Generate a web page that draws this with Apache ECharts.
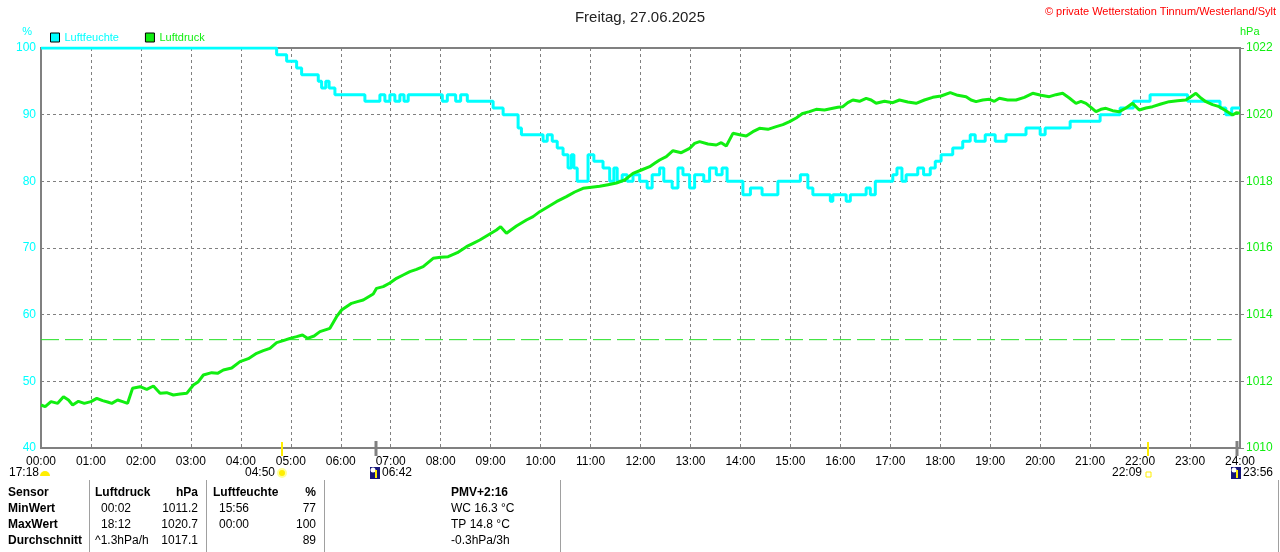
<!DOCTYPE html>
<html lang="de">
<head>
<meta charset="UTF-8">
<title>Freitag, 27.06.2025</title>
<script src="https://cdn.jsdelivr.net/npm/echarts@6/dist/echarts.min.js"></script>
<style>
  html, body { margin: 0; padding: 0; background: #fff; }
  #chart { width: 1280px; height: 552px; }
</style>
</head>
<body>
<div id="chart"></div>
<script>
// Luftfeuchte (%), Stufenwerte: Minute des Tages -> Wert
const humTimes = [0, 283, 295, 307, 313, 333, 337, 342, 346, 353, 389, 407, 413, 419, 425, 431, 436, 441, 482, 488,
  498, 504, 512, 543, 555, 573, 577, 603, 608, 614, 620, 627, 633, 637, 640, 644, 657, 664, 675, 683,
  688, 692, 698, 704, 711, 719, 728, 734, 743, 748, 758, 765, 771, 779, 785, 796, 803, 811, 818, 824,
  843, 852, 866, 885, 912, 921, 927, 948, 951, 967, 972, 991, 996, 1002, 1023, 1028, 1034, 1039, 1053, 1060,
  1068, 1074, 1081, 1095, 1107, 1116, 1122, 1134, 1146, 1159, 1183, 1200, 1206, 1236, 1272, 1296, 1312, 1332, 1377, 1416,
  1423, 1430, 1440];
const humValues = [100, 99, 98, 97, 96, 95, 94, 95, 94, 93, 92, 93, 92, 93, 92, 93, 92, 93, 92, 93,
  92, 93, 92, 91, 90, 88, 87, 86, 87, 86, 85, 84, 82, 84, 82, 80, 84, 83, 82, 80,
  82, 80, 81, 80, 81, 80, 79, 81, 82, 80, 79, 82, 81, 79, 81, 80, 82, 81, 82, 80,
  78, 79, 78, 80, 81, 79, 78, 77, 78, 77, 78, 79, 78, 80, 81, 82, 80, 81, 82, 81,
  82, 83, 84, 85, 86, 87, 86, 87, 86, 87, 88, 87, 88, 89, 90, 91, 92, 93, 92, 91,
  90, 91, 91];

// Luftdruck (hPa)
const presTimes = [0, 5, 12, 20, 27, 33, 38, 45, 52, 60, 67, 74, 80, 85, 92, 98, 104, 110, 119, 127,
  135, 143, 151, 159, 167, 175, 183, 189, 195, 205, 212, 219, 229, 239, 249, 259, 267, 275, 283, 291,
  299, 307, 314, 320, 328, 335, 347, 355, 361, 373, 380, 387, 399, 403, 411, 419, 427, 435, 443, 451,
  459, 471, 480, 489, 500, 511, 519, 527, 537, 547, 552, 559, 571, 583, 591, 599, 609, 619, 631, 641,
  651, 661, 671, 681, 691, 701, 711, 721, 731, 737, 743, 751, 759, 769, 779, 785, 791, 801, 811, 817,
  823, 831, 839, 847, 855, 863, 873, 883, 891, 899, 907, 915, 923, 931, 941, 951, 957, 963, 969, 975,
  983, 991, 997, 1003, 1013, 1023, 1031, 1041, 1051, 1061, 1071, 1081, 1092, 1101, 1111, 1117, 1123, 1131, 1139, 1145,
  1151, 1161, 1171, 1181, 1191, 1201, 1211, 1219, 1227, 1235, 1243, 1249, 1255, 1261, 1267, 1273, 1279, 1287, 1295, 1303,
  1311, 1319, 1327, 1335, 1345, 1355, 1365, 1375, 1381, 1387, 1393, 1399, 1407, 1415, 1423, 1431, 1436, 1440];
const presValues = [1011.29, 1011.24, 1011.39, 1011.34, 1011.54, 1011.44, 1011.29, 1011.40, 1011.34, 1011.39, 1011.49, 1011.42, 1011.38, 1011.34, 1011.44, 1011.39, 1011.34, 1011.79, 1011.84, 1011.76,
  1011.86, 1011.64, 1011.66, 1011.59, 1011.62, 1011.64, 1011.89, 1011.99, 1012.19, 1012.26, 1012.24, 1012.34, 1012.40, 1012.59, 1012.68, 1012.84, 1012.92, 1012.99, 1013.16, 1013.22,
  1013.29, 1013.34, 1013.39, 1013.29, 1013.36, 1013.49, 1013.59, 1013.94, 1014.14, 1014.34, 1014.39, 1014.44, 1014.62, 1014.79, 1014.84, 1014.95, 1015.09, 1015.19, 1015.29, 1015.36,
  1015.44, 1015.69, 1015.72, 1015.74, 1015.86, 1016.04, 1016.14, 1016.24, 1016.39, 1016.54, 1016.64, 1016.44, 1016.66, 1016.84, 1016.94, 1017.09, 1017.24, 1017.39, 1017.54, 1017.68,
  1017.79, 1017.82, 1017.85, 1017.90, 1017.95, 1018.04, 1018.24, 1018.34, 1018.44, 1018.54, 1018.64, 1018.74, 1018.92, 1018.86, 1018.99, 1019.14, 1019.19, 1019.12, 1019.09, 1019.16,
  1019.06, 1019.44, 1019.40, 1019.36, 1019.49, 1019.59, 1019.56, 1019.64, 1019.70, 1019.79, 1019.90, 1020.04, 1020.09, 1020.16, 1020.14, 1020.19, 1020.22, 1020.24, 1020.36, 1020.44,
  1020.40, 1020.49, 1020.44, 1020.34, 1020.40, 1020.36, 1020.44, 1020.38, 1020.34, 1020.44, 1020.52, 1020.56, 1020.66, 1020.58, 1020.54, 1020.44, 1020.39, 1020.44, 1020.46, 1020.40,
  1020.49, 1020.44, 1020.44, 1020.52, 1020.64, 1020.58, 1020.54, 1020.60, 1020.64, 1020.50, 1020.34, 1020.40, 1020.34, 1020.22, 1020.09, 1020.16, 1020.19, 1020.12, 1020.09, 1020.20,
  1020.34, 1020.14, 1020.20, 1020.24, 1020.32, 1020.39, 1020.42, 1020.44, 1020.54, 1020.64, 1020.50, 1020.39, 1020.30, 1020.24, 1020.12, 1019.99, 1020.06, 1020.04];

// Referenzlinie Normaldruck
const refTimes = [0, 1430];
const refPressure = 1013.25;

// Sonnen-/Mondereignisse
const eventTimes = [290, 402, 1329, 1436];
const eventLabels = ['04:50', '06:42', '22:09', '23:56'];
const eventKinds = ['sunrise', 'moonrise', 'sunset', 'moonset'];
const prevSunset = '17:18';

// Tabelle unten
const tableLabels = ['Sensor', 'MinWert', 'MaxWert', 'Durchschnitt'];
const presTimeCol = ['Luftdruck', '00:02', '18:12', '^1.3hPa/h'];
const presValCol = ['hPa', '1011.2', '1020.7', '1017.1'];
const humTimeCol = ['Luftfeuchte', '15:56', '00:00', ''];
const humValCol = ['%', '77', '100', '89'];
const pmvLines = ['PMV+2:16', 'WC 16.3 °C', 'TP 14.8 °C', '-0.3hPa/3h'];

const CYAN = '#00ffff';
const GREEN = '#11ee11';
const GRAY = '#808080';
const FONT = '"Liberation Sans", Arial, sans-serif';

const humData = humTimes.map((t, i) => [t, humValues[i]]);
const presData = presTimes.map((t, i) => [t, presValues[i]]);
const refData = refTimes.map(t => [t, refPressure]);

const chart = echarts.init(document.getElementById('chart'));

const option = {
  animation: false,
  textStyle: { fontFamily: FONT },
  title: {
    text: 'Freitag, 27.06.2025',
    left: 'center',
    top: 5,
    textStyle: { fontSize: 15, fontWeight: 'normal', color: '#222', fontFamily: FONT }
  },
  legend: {
    left: 45,
    top: 27,
    icon: 'rect',
    itemWidth: 9,
    itemHeight: 9,
    itemGap: 26,
    textStyle: { fontSize: 11, fontFamily: FONT },
    itemStyle: { borderColor: '#000', borderWidth: 1 },
    data: [
      { name: 'Luftfeuchte', textStyle: { color: CYAN } },
      { name: 'Luftdruck', textStyle: { color: GREEN } }
    ]
  },
  grid: {
    left: 41, right: 40, top: 48, bottom: 104,
    show: true, borderColor: GRAY, borderWidth: 2,
    outerBoundsMode: 'none'
  },
  xAxis: {
    type: 'value',
    min: 0, max: 1440, interval: 60,
    axisLine: { show: false },
    axisTick: { show: false },
    axisLabel: {
      color: '#000', fontSize: 12, margin: 8, fontFamily: FONT,
      formatter: v => String(v / 60).padStart(2, '0') + ':00'
    },
    splitLine: { show: true, lineStyle: { color: GRAY, type: [3, 3], width: 1 } }
  },
  yAxis: [{
    type: 'value',
    min: 40, max: 100, interval: 10,
    axisLine: { show: false },
    axisTick: { show: false },
    axisLabel: { color: CYAN, fontSize: 12, margin: 5, fontFamily: FONT },
    splitLine: { show: true, lineStyle: { color: GRAY, type: [3, 3], width: 1 } }
  }, {
    type: 'value',
    min: 1010, max: 1022, interval: 2,
    position: 'right',
    axisLine: { show: false },
    axisTick: { show: true, length: 4, lineStyle: { color: GRAY, width: 1 } },
    axisLabel: { color: GREEN, fontSize: 12, margin: 6, fontFamily: FONT, formatter: v => String(v) },
    splitLine: { show: false }
  }],
  series: [{
    name: 'Normaldruck',
    type: 'line',
    yAxisIndex: 1,
    symbol: 'none',
    silent: true,
    lineStyle: { width: 1, color: '#22e022', type: [18, 6] },
    data: refData,
    z: 2
  }, {
    name: 'Luftfeuchte',
    type: 'line',
    yAxisIndex: 0,
    step: 'end',
    symbol: 'none',
    color: CYAN,
    lineStyle: { width: 3, color: CYAN },
    data: humData,
    z: 3
  }, {
    name: 'Luftdruck',
    type: 'line',
    yAxisIndex: 1,
    symbol: 'none',
    color: GREEN,
    lineStyle: { width: 3, color: GREEN },
    data: presData,
    z: 4
  }]
};

chart.setOption(option);

// Zusatzgrafik: Achsen-Einheiten, Copyright, Ereignisse, Tabelle
const g = [];
function txt(text, x, y, opt) {
  opt = opt || {};
  g.push({
    type: 'text', silent: true, z: 10,
    style: {
      text: text, x: x, y: y,
      fill: opt.color || '#000',
      font: (opt.bold ? 'bold ' : '') + (opt.size || 12) + 'px ' + FONT,
      textAlign: opt.align || 'left', align: opt.align || 'left',
      textVerticalAlign: 'middle', verticalAlign: 'middle'
    }
  });
}
function vline(x, y1, y2, color, w) {
  g.push({ type: 'line', silent: true, z: 9, shape: { x1: x, y1: y1, x2: x, y2: y2 }, style: { stroke: color, lineWidth: w } });
}

txt('%', 32, 32, { color: CYAN, size: 11, align: 'right' });
txt('hPa', 1240, 32, { color: GREEN, size: 11 });
txt('© private Wetterstation Tinnum/Westerland/Sylt', 1276, 12, { color: '#ff0000', size: 11, align: 'right' });

const yBase = chart.convertToPixel({ yAxisIndex: 0 }, 40);
const iconY = 473;

// Sonnenuntergang Vortag links
txt(prevSunset, 9, iconY, { size: 12 });
g.push({ type: 'sector', silent: true, z: 10, shape: { cx: 45, cy: iconY + 3, r0: 0, r: 5, startAngle: Math.PI, endAngle: Math.PI * 2 }, style: { fill: '#ffee00' } });

eventTimes.forEach((t, i) => {
  const x = Math.round(chart.convertToPixel({ xAxisIndex: 0 }, t));
  const kind = eventKinds[i];
  if (kind === 'sunrise' || kind === 'sunset') {
    vline(x, yBase - 6, yBase + 8, '#ffee00', 2);
  } else {
    vline(x, yBase - 7, yBase + 8, GRAY, 3);
  }
  if (kind === 'sunrise') {
    g.push({ type: 'circle', silent: true, z: 10, shape: { cx: x, cy: iconY, r: 4 }, style: { fill: '#ffee00', stroke: '#ffff99', lineWidth: 2 } });
    txt(eventLabels[i], x - 7, iconY, { align: 'right' });
  } else if (kind === 'sunset') {
    g.push({ type: 'rect', silent: true, z: 10, shape: { x: x - 2, y: iconY - 1, width: 5, height: 5 }, style: { fill: '#fff', stroke: '#ffee00', lineWidth: 1 } });
    txt(eventLabels[i], x - 6, iconY, { align: 'right' });
  } else {
    g.push({ type: 'rect', silent: true, z: 10, shape: { x: x - 6, y: iconY - 6, width: 10, height: 12 }, style: { fill: '#15157a' } });
    g.push({ type: 'circle', silent: true, z: 11, shape: { cx: x - 3, cy: iconY - 3, r: 2.5 }, style: { fill: '#fff' } });
    g.push({ type: 'line', silent: true, z: 11, shape: { x1: x, y1: iconY - 3, x2: x, y2: iconY + 5 }, style: { stroke: '#ffee00', lineWidth: 2 } });
    txt(eventLabels[i], x + 6, iconY, {});
  }
});

// Tabelle
const rowY = [493, 509, 525, 541];
[89, 206, 324, 560, 1278].forEach(x => vline(x + 0.5, 480, 552, '#a0a0a0', 1));
rowY.forEach((y, r) => {
  const head = r === 0;
  txt(tableLabels[r], 8, y, { bold: true });
  txt(presTimeCol[r], r === 0 || r === 3 ? 95 : 101, y, { bold: head });
  txt(presValCol[r], 198, y, { bold: head, align: 'right' });
  txt(humTimeCol[r], r === 0 ? 213 : 219, y, { bold: head });
  txt(humValCol[r], 316, y, { bold: head, align: 'right' });
  txt(pmvLines[r], 451, y, { bold: head });
});

chart.setOption({ graphic: { elements: g } });
</script>
</body>
</html>
